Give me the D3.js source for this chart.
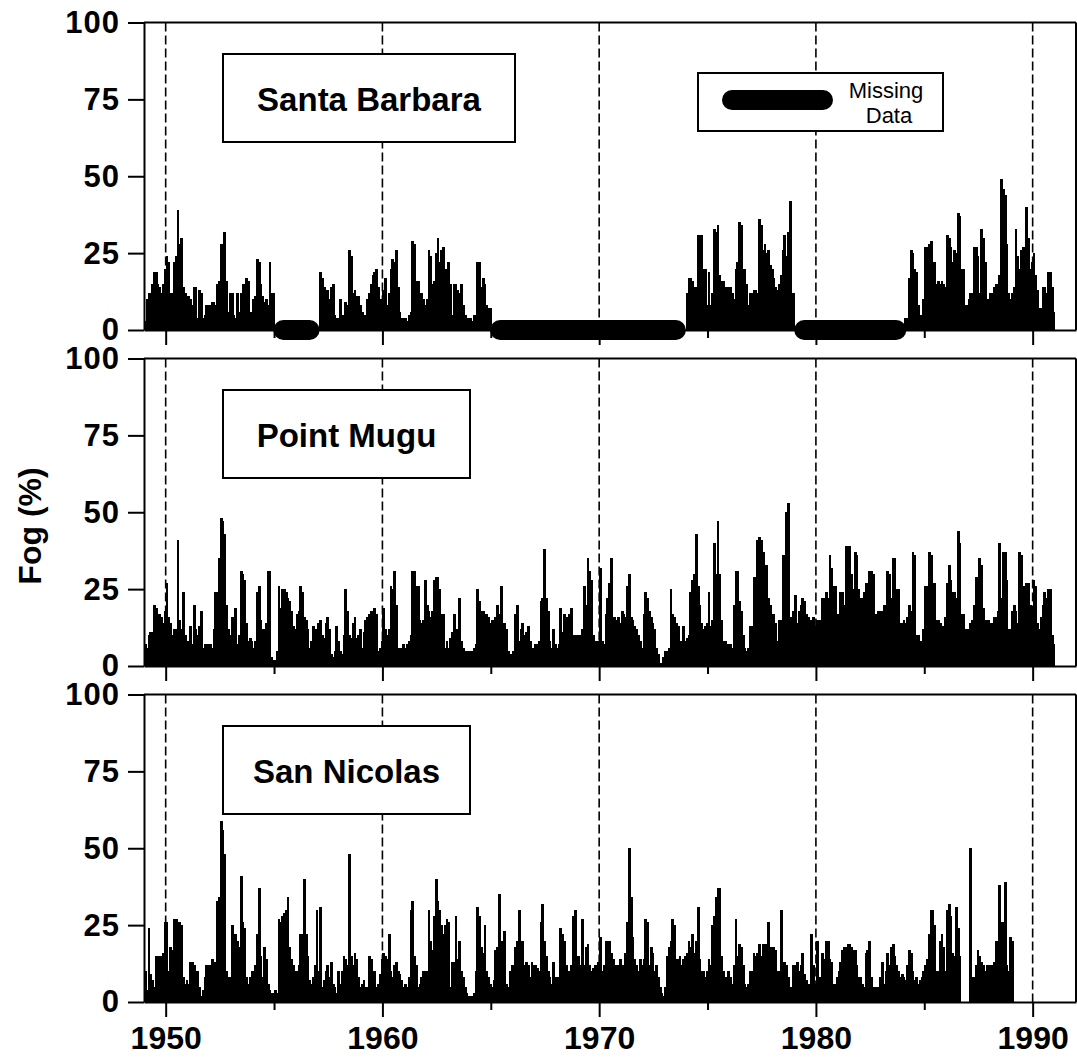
<!DOCTYPE html>
<html>
<head>
<meta charset="utf-8">
<script src="https://cdn.jsdelivr.net/npm/d3@7"></script>
<style>
  body { margin: 0; background: #fff; }
  svg text { font-family: "Liberation Sans", Arial, Helvetica, sans-serif; fill: #000; }
</style>
</head>
<body>
<svg id="chart" width="1077" height="1062"></svg>
<script>
// monthly fog frequency (%), one row per year starting 1949, null = missing month
const startYear = 1949;
const _ = null;

const santaBarbara = [
  [3, 10, 12, 12, 15, 19, 19, 15, 14, 12, 15, 20],   // 1949
  [24, 22, 12, 12, 22, 24, 39, 28, 30, 14, 12, 11],
  [11, 10, 8, 14, 14, 4, 13, 12, 4, 5, 8, 8],
  [8, 9, 9, 8, 15, 16, 28, 28, 32, 16, 6, 12],
  [12, 5, 4, 12, 6, 12, 15, 15, 17, 16, 6, 5],
  [10, 11, 23, 22, 15, 11, 9, 10, 8, 22, 12, 12],
  [_, _, _, _, _, _, _, _, _, _, _, _],                // 1955
  [_, _, _, _, _, _, _, _, _, _, _, _],
  [_, 19, 17, 14, 12, 13, 10, 14, 15, 5, 4, 4],
  [10, 5, 4, 9, 8, 26, 24, 12, 13, 11, 11, 8],
  [6, 5, 5, 10, 12, 15, 18, 19, 20, 14, 10, 10],
  [13, 17, 8, 12, 20, 23, 22, 26, 14, 6, 4, 4],      // 1960
  [4, 3, 5, 6, 29, 28, 16, 16, 12, 12, 10, 8],
  [10, 26, 24, 15, 16, 25, 30, 22, 26, 27, 20, 12],
  [22, 15, 5, 15, 15, 13, 12, 15, 8, 5, 4, 4],
  [4, 3, 5, 4, 22, 22, 14, 17, 15, 8, 7, 7],
  [_, _, _, _, _, _, _, _, _, _, _, _],                // 1965
  [_, _, _, _, _, _, _, _, _, _, _, _],
  [_, _, _, _, _, _, _, _, _, _, _, _],
  [_, _, _, _, _, _, _, _, _, _, _, _],
  [_, _, _, _, _, _, _, _, _, _, _, _],
  [_, _, _, _, _, _, _, _, _, _, _, _],                // 1970
  [_, _, _, _, _, _, _, _, _, _, _, _],
  [_, _, _, _, _, _, _, _, _, _, _, _],
  [_, _, _, _, _, _, _, _, _, _, _, _],
  [12, 17, 17, 16, 14, 14, 31, 30, 31, 20, 20, 8],
  [19, 8, 12, 33, 32, 34, 18, 16, 16, 14, 13, 14],   // 1975
  [14, 12, 10, 20, 22, 35, 34, 20, 20, 15, 8, 12],
  [12, 13, 13, 12, 36, 34, 26, 28, 25, 26, 21, 20],
  [17, 14, 13, 15, 18, 26, 31, 24, 32, 42, 12, 12],
  [_, _, _, _, _, _, _, _, _, _, _, _],
  [_, _, _, _, _, _, _, _, _, _, _, _],                // 1980
  [_, _, _, _, _, _, _, _, _, _, _, _],
  [_, _, _, _, _, _, _, _, _, _, _, _],
  [_, _, _, _, _, _, _, _, _, _, _, _],
  [_, 4, 4, 17, 26, 25, 20, 19, 8, 5, 5, 10],
  [27, 27, 28, 29, 22, 22, 15, 16, 15, 16, 15, 14],  // 1985
  [31, 30, 27, 22, 26, 25, 38, 37, 20, 20, 8, 8],
  [10, 12, 12, 27, 27, 24, 12, 33, 30, 22, 8, 10],
  [12, 12, 14, 15, 14, 18, 49, 46, 44, 28, 12, 10],
  [12, 14, 33, 24, 20, 26, 27, 27, 40, 30, 20, 22],
  [25, 18, 13, 7, 7, 14, 14, 12, 19, 19, 14, 6]      // 1990
];

const pointMugu = [
  [7, 6, 10, 11, 11, 20, 19, 17, 17, 16, 14, 18],    // 1949
  [27, 16, 14, 10, 12, 12, 41, 15, 12, 24, 10, 6],
  [8, 13, 7, 20, 12, 10, 13, 18, 6, 7, 7, 7],
  [7, 6, 12, 24, 24, 35, 48, 47, 43, 20, 12, 10],
  [16, 9, 19, 7, 10, 31, 30, 28, 14, 8, 9, 8],
  [6, 8, 24, 26, 15, 12, 12, 14, 31, 31, 3, 2],
  [2, 5, 26, 19, 25, 25, 24, 22, 21, 18, 13, 12],    // 1955
  [17, 18, 26, 24, 16, 15, 12, 6, 8, 13, 12, 10],
  [14, 15, 10, 9, 14, 16, 12, 4, 3, 5, 13, 8],
  [5, 4, 10, 25, 18, 10, 9, 14, 16, 9, 10, 12],
  [6, 11, 15, 16, 17, 18, 18, 19, 17, 5, 6, 8],
  [19, 12, 10, 12, 26, 25, 31, 20, 6, 5, 6, 7],      // 1960
  [6, 7, 8, 10, 31, 31, 26, 26, 15, 14, 15, 28],
  [20, 18, 16, 18, 28, 29, 29, 25, 17, 17, 6, 8],
  [6, 9, 11, 17, 8, 12, 22, 8, 6, 5, 5, 5],
  [5, 5, 6, 7, 25, 21, 18, 18, 17, 17, 16, 14],
  [15, 14, 16, 20, 17, 26, 14, 14, 12, 5, 4, 4],     // 1965
  [5, 17, 20, 8, 12, 14, 10, 11, 13, 8, 6, 6],
  [7, 7, 8, 21, 22, 38, 22, 18, 8, 6, 12, 7],
  [6, 7, 19, 11, 17, 16, 11, 17, 19, 10, 10, 10],
  [10, 10, 12, 26, 20, 35, 31, 28, 10, 8, 8, 8],
  [32, 8, 7, 17, 22, 27, 35, 16, 16, 15, 16, 14],    // 1970
  [18, 17, 16, 26, 30, 16, 15, 13, 12, 10, 8, 6],
  [17, 24, 22, 18, 16, 14, 12, 6, 4, 1, 1, 3],
  [5, 5, 6, 25, 17, 16, 14, 13, 8, 8, 13, 8],
  [9, 10, 24, 28, 30, 43, 26, 20, 14, 12, 13, 14],
  [24, 13, 15, 40, 30, 47, 30, 15, 8, 8, 7, 7],      // 1975
  [7, 6, 20, 31, 31, 21, 18, 10, 6, 5, 6, 13],
  [13, 29, 29, 41, 42, 41, 37, 33, 33, 22, 20, 17],
  [17, 14, 8, 15, 15, 36, 36, 50, 53, 16, 16, 18],
  [23, 14, 18, 20, 22, 21, 17, 16, 7, 15, 16, 13],
  [15, 15, 12, 22, 22, 24, 22, 36, 32, 26, 26, 17],  // 1980
  [16, 24, 24, 20, 39, 38, 39, 30, 25, 37, 36, 25],
  [22, 22, 24, 27, 27, 31, 31, 30, 17, 17, 18, 18],
  [18, 20, 20, 31, 30, 22, 35, 35, 25, 25, 14, 14],
  [15, 14, 16, 20, 18, 37, 36, 10, 10, 8, 6, 12],
  [26, 26, 37, 36, 27, 27, 15, 15, 14, 12, 13, 16],  // 1985
  [27, 33, 28, 24, 24, 22, 44, 40, 17, 17, 12, 12],
  [12, 14, 15, 20, 29, 28, 35, 33, 19, 15, 14, 15],
  [14, 14, 16, 16, 18, 40, 22, 37, 37, 28, 12, 12],
  [18, 20, 18, 14, 37, 36, 26, 26, 27, 27, 20, 18],
  [28, 26, 14, 12, 16, 20, 24, 22, 25, 25, 10, 7]    // 1990
];

const sanNicolas = [
  [10, 4, 24, 9, 7, 5, 15, 15, 15, 15, 16, 26],      // 1949
  [26, 10, 18, 17, 27, 27, 10, 26, 25, 8, 6, 7],
  [6, 13, 13, 12, 8, 10, 5, 2, 4, 8, 12, 12],
  [12, 14, 10, 13, 33, 34, 59, 56, 48, 10, 8, 8],
  [25, 8, 22, 20, 18, 41, 26, 24, 8, 6, 8, 10],
  [10, 12, 22, 37, 15, 8, 18, 14, 6, 4, 3, 3],
  [4, 3, 27, 26, 28, 29, 30, 34, 18, 14, 12, 10],    // 1955
  [10, 12, 22, 22, 40, 22, 15, 7, 6, 8, 12, 30],
  [10, 31, 5, 7, 10, 12, 8, 13, 6, 5, 3, 10],
  [6, 10, 15, 14, 12, 48, 15, 12, 16, 14, 8, 5],
  [6, 7, 5, 5, 15, 14, 8, 10, 5, 6, 9, 14],
  [16, 15, 14, 22, 10, 8, 12, 13, 10, 9, 7, 5],      // 1960
  [6, 5, 8, 30, 33, 15, 12, 5, 6, 8, 10, 10],
  [10, 30, 20, 17, 28, 40, 33, 30, 25, 22, 25, 27],
  [26, 5, 13, 13, 28, 14, 20, 10, 8, 5, 3, 2],
  [2, 2, 3, 10, 31, 28, 18, 16, 25, 10, 8, 6],
  [5, 7, 17, 18, 35, 20, 14, 23, 6, 5, 10, 12],      // 1965
  [12, 18, 20, 30, 18, 20, 12, 13, 12, 8, 13, 12],
  [12, 11, 10, 26, 32, 20, 15, 10, 8, 6, 13, 8],
  [8, 6, 24, 22, 20, 12, 10, 10, 12, 28, 30, 15],
  [15, 12, 27, 12, 18, 19, 12, 10, 11, 12, 11, 13],
  [21, 10, 12, 20, 20, 20, 16, 14, 12, 12, 12, 14],  // 1970
  [12, 12, 16, 26, 50, 34, 21, 14, 12, 10, 14, 12],
  [14, 27, 26, 12, 18, 16, 10, 12, 8, 5, 3, 2],
  [5, 15, 18, 20, 27, 25, 14, 14, 15, 12, 14, 15],
  [16, 20, 18, 22, 16, 20, 31, 14, 10, 10, 8, 10],
  [14, 12, 25, 28, 34, 37, 37, 15, 10, 8, 8, 10],    // 1975
  [8, 6, 12, 27, 15, 19, 18, 12, 6, 5, 6, 10],
  [10, 16, 15, 16, 19, 15, 19, 15, 19, 26, 18, 18],
  [18, 17, 10, 10, 30, 13, 13, 12, 8, 5, 4, 12],
  [12, 13, 10, 12, 16, 9, 7, 6, 6, 22, 12, 6],
  [20, 8, 7, 16, 14, 20, 20, 14, 13, 6, 6, 8],       // 1980
  [10, 13, 17, 18, 18, 19, 19, 18, 17, 17, 12, 8],
  [8, 6, 5, 16, 17, 20, 8, 5, 5, 4, 5, 8],
  [13, 6, 10, 16, 12, 18, 19, 15, 12, 10, 8, 9],
  [8, 7, 12, 17, 16, 10, 7, 8, 6, 7, 8, 10],
  [12, 14, 22, 30, 30, 25, 10, 10, 20, 22, 18, 10],  // 1985
  [30, 32, 28, 16, 15, 31, 24, 15, 0, 0, 0, 0],
  [0, 50, 8, 8, 12, 17, 15, 13, 12, 10, 12, 12],
  [12, 12, 13, 20, 20, 38, 26, 26, 39, 12, 10, 21],
  [20, _, _, _, _, _, _, _, _, _, _, _],
  [_, _, _, _, _, _, _, _, _, _, _, _]                 // 1990
];

const stationNames = ["Santa Barbara", "Point Mugu", "San Nicolas"];
const stationData = [santaBarbara, pointMugu, sanNicolas];
// missing-data periods at Santa Barbara (decimal years)
const sbMissing = [[1954.97, 1957.1], [1964.97, 1974.0], [1979.0, 1984.17]];

const yTicks = [0, 25, 50, 75, 100];
const decadeTicks = [1950, 1960, 1970, 1980, 1990];
const minorTicks = [1955, 1965, 1975, 1985];

const svg = d3.select("#chart");

const x = d3.scaleLinear().domain([1949, 1992]).range([144, 1076]);

const panelH = 307.5;
const panelTops = [22.5, 358.5, 694.5];
const boxWidths = [292, 247, 247];

stationData.forEach((rows, i) => {
  const top = panelTops[i];
  const y = d3.scaleLinear().domain([0, 100]).range([top + panelH, top]);
  const g = svg.append("g");

  // dashed decade lines
  g.selectAll(".dash")
    .data(decadeTicks)
    .join("line")
    .attr("x1", d => x(d)).attr("x2", d => x(d))
    .attr("y1", y(100)).attr("y2", y(0))
    .attr("stroke", "#000")
    .attr("stroke-width", 1.6)
    .attr("stroke-dasharray", "9,4");

  // flatten months
  const months = rows.flatMap((row, yi) =>
    row.map((v, m) => ({ t: startYear + yi + m / 12, v }))
  ).filter(d => d.v !== null);

  // missing data pills (Santa Barbara only)
  if (i === 0) {
    g.selectAll(".pill")
      .data(sbMissing)
      .join("rect")
      .attr("x", d => x(d[0]))
      .attr("width", d => x(d[1]) - x(d[0]))
      .attr("y", y(0) - 10)
      .attr("height", 20)
      .attr("rx", 10)
      .attr("fill", "#000");
  }

  // monthly bars (solid, overlapping so no seams)
  g.append("g")
    .attr("shape-rendering", "crispEdges")
    .selectAll("rect")
    .data(months)
    .join("rect")
    .attr("x", d => x(d.t))
    .attr("width", d => x(d.t + 1 / 12) - x(d.t) + 1)
    .attr("y", d => y(d.v))
    .attr("height", d => y(0) - y(d.v))
    .attr("fill", "#000");

  // frame: top and right
  g.append("line")
    .attr("x1", x.range()[0]).attr("x2", x.range()[1])
    .attr("y1", y(100)).attr("y2", y(100))
    .attr("stroke", "#000").attr("stroke-width", 2);
  g.append("line")
    .attr("x1", x.range()[1]).attr("x2", x.range()[1])
    .attr("y1", y(100)).attr("y2", y(0))
    .attr("stroke", "#000").attr("stroke-width", 2);

  // left axis
  const yAxis = g.append("g")
    .attr("transform", `translate(${x.range()[0]},0)`)
    .call(d3.axisLeft(y).tickValues(yTicks).tickSize(16).tickSizeOuter(0).tickPadding(8));
  yAxis.selectAll("path, line").attr("stroke", "#000").attr("stroke-width", 2);
  yAxis.selectAll("text")
    .attr("font-size", 31).attr("font-weight", "bold")
    .attr("letter-spacing", 1)
    .attr("font-family", "'Liberation Sans', Arial, sans-serif");

  // bottom axis (decades long, half-decades short)
  const xMajor = g.append("g")
    .attr("transform", `translate(0,${y(0)})`)
    .call(d3.axisBottom(x).tickValues(decadeTicks).tickSize(15).tickSizeOuter(0)
      .tickPadding(9).tickFormat(i === 2 ? d3.format("d") : () => ""));
  xMajor.selectAll("path, line").attr("stroke", "#000").attr("stroke-width", 2);
  xMajor.selectAll("text")
    .attr("font-size", 32).attr("font-weight", "bold")
    .attr("font-family", "'Liberation Sans', Arial, sans-serif");

  const xMinor = g.append("g")
    .attr("transform", `translate(0,${y(0)})`)
    .call(d3.axisBottom(x).tickValues(minorTicks).tickSize(8).tickSizeOuter(0).tickFormat(() => ""));
  xMinor.select(".domain").remove();
  xMinor.selectAll("line").attr("stroke", "#000").attr("stroke-width", 2);

  // station label box
  g.append("rect")
    .attr("x", 223).attr("y", top + 31.5)
    .attr("width", boxWidths[i]).attr("height", 88)
    .attr("fill", "#fff").attr("stroke", "#000").attr("stroke-width", 2);
  g.append("text")
    .attr("x", 223 + boxWidths[i] / 2).attr("y", top + 88)
    .attr("text-anchor", "middle")
    .attr("font-size", 33).attr("font-weight", "bold")
    .text(stationNames[i]);

  // legend in first panel
  if (i === 0) {
    g.append("rect")
      .attr("x", 698).attr("y", 73).attr("width", 245).attr("height", 58)
      .attr("fill", "#fff").attr("stroke", "#000").attr("stroke-width", 2);
    g.append("rect")
      .attr("x", 722).attr("y", 90).attr("width", 111).attr("height", 20)
      .attr("rx", 10).attr("fill", "#000");
    g.append("text")
      .attr("x", 886).attr("y", 98).attr("text-anchor", "middle")
      .attr("font-size", 22).text("Missing");
    g.append("text")
      .attr("x", 889).attr("y", 123).attr("text-anchor", "middle")
      .attr("font-size", 22).text("Data");
  }
});

// y axis title
svg.append("text")
  .attr("transform", "translate(41,526) rotate(-90)")
  .attr("text-anchor", "middle")
  .attr("font-size", 32).attr("font-weight", "bold")
  .text("Fog (%)");
</script>
</body>
</html>
